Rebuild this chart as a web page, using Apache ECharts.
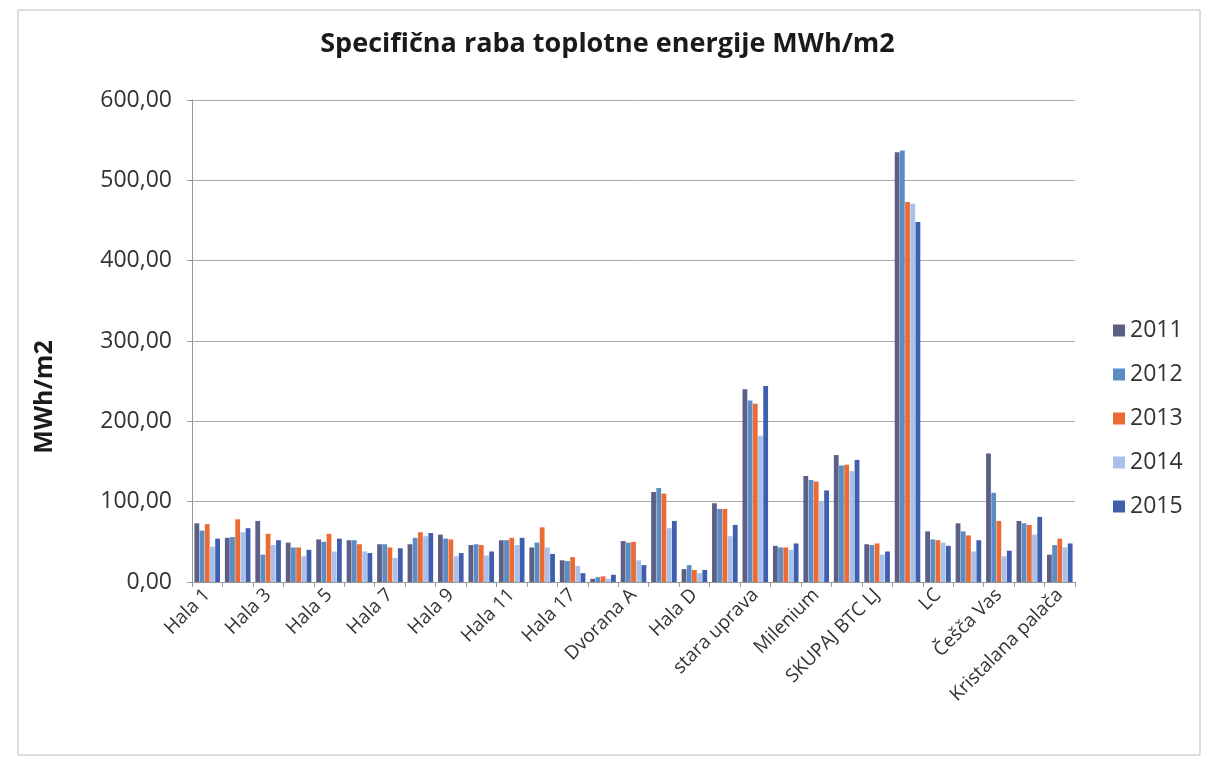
<!DOCTYPE html>
<html>
<head>
<meta charset="utf-8">
<script src="https://cdn.jsdelivr.net/npm/echarts@6/dist/echarts.min.js"></script>
<style>
html,body{margin:0;padding:0;background:#fff;}
#chart{width:1215px;height:766px;}
</style>
</head>
<body>
<div id="chart"></div>
<script>
var categories = ['Hala 1','Hala 2','Hala 3','Hala 4','Hala 5','Hala 6','Hala 7','Hala 8','Hala 9','Hala 10',
  'Hala 11','Hala 12','Hala 17','Hala 18','Dvorana A','Dvorana B','Hala D','nova uprava','stara uprava','Emporium',
  'Milenium','Crystal Palace','SKUPAJ BTC LJ','BTC Maribor','LC','BTC Novo mesto','Češča Vas','BTC Murska Sobota','Kristalana palača'];
var years = ['2011','2012','2013','2014','2015'];
var v2011 = [73,55,76,49,53,52,47,47,59,46,52,43,27,4,51,112,16,98,240,45,132,158,47,535,63,73,160,76,34];
var v2012 = [64,56,34,43,50,52,47,55,54,47,52,49,26,6,49,117,21,91,226,43,127,145,46,537,53,63,111,73,46];
var v2013 = [72,78,60,43,60,47,43,62,53,46,55,68,31,7,50,110,15,91,222,43,125,146,48,473,52,58,76,71,54];
var v2014 = [44,62,46,32,38,38,30,57,32,33,46,43,20,4,27,67,11,57,182,40,100,138,34,471,49,38,32,59,43];
var v2015 = [54,67,52,40,54,36,42,61,36,38,55,35,11,9,21,76,15,71,244,48,114,152,38,448,45,52,39,81,48];
var yTicks = [0,100,200,300,400,500,600];

var colors = ['#5C5F86','#5B8CC3','#EC6B35','#A8C0EA','#3F5FAE'];
var values = [v2011,v2012,v2013,v2014,v2015];
var font = '"Open Sans", "DejaVu Sans", sans-serif';

var chart = echarts.init(document.getElementById('chart'));
chart.setOption({
  animation: false,
  color: colors,
  title: {
    text: 'Specifična raba toplotne energije MWh/m2',
    left: 'center', top: 26,
    textStyle: {fontFamily: font, fontSize: 27, fontWeight: 'bold', color: '#1a1a1a'}
  },
  graphic: [{
    type: 'rect', shape: {x: 18, y: 10, width: 1182, height: 745},
    style: {fill: 'none', stroke: '#bbb', lineWidth: 1}
  }, {
    type: 'text', x: 45, y: 397, rotation: Math.PI / 2,
    style: {text: 'MWh/m2', fontFamily: font, fontSize: 25, fontWeight: 'bold', fill: '#1a1a1a',
      align: 'center', verticalAlign: 'middle'}
  }],
  legend: {
    orient: 'vertical', left: 1108, top: 314,
    itemWidth: 12, itemHeight: 12, itemGap: 21,
    icon: 'rect',
    textStyle: {fontFamily: font, fontSize: 23, color: '#333'},
    data: years
  },
  grid: {left: 192, right: 140, top: 100, bottom: 184, containLabel: false},
  xAxis: {
    type: 'category', data: categories,
    axisLine: {lineStyle: {color: '#999'}},
    axisTick: {show: true, interval: 0, alignWithLabel: false, length: 5, lineStyle: {color: '#999'}},
    axisLabel: {interval: 1, rotate: 45, fontFamily: font, fontSize: 19, color: '#333', margin: 10}
  },
  yAxis: {
    type: 'value', min: yTicks[0], max: yTicks[yTicks.length-1], interval: 100,
    axisLine: {show: true, lineStyle: {color: '#999'}},
    axisTick: {show: true, length: 5, lineStyle: {color: '#999'}},
    axisLabel: {fontFamily: font, fontSize: 23, color: '#333', margin: 20,
      formatter: function(v){ return v.toFixed(2).replace('.', ','); }},
    splitLine: {lineStyle: {color: '#aaa'}}
  },
  series: years.map(function(y, i){
    return {name: y, type: 'bar', data: values[i], barGap: '8%', barCategoryGap: '16%',
      itemStyle: {color: colors[i]}};
  })
});
</script>
</body>
</html>
